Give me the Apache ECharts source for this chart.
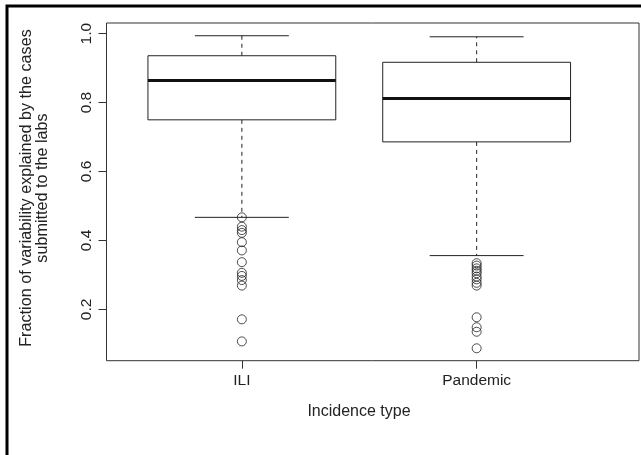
<!DOCTYPE html>
<html><head><meta charset="utf-8">
<script src="https://cdn.jsdelivr.net/npm/echarts@6/dist/echarts.min.js"></script>
<style>html,body{margin:0;padding:0;background:#fff}#c{width:641px;height:455px}</style>
</head><body><div id="c"></div>
<script>
var categories = ['ILI', 'Pandemic'];
var lowerWhisker = [0.467, 0.356];
var q1 = [0.750, 0.686];
var median = [0.864, 0.812];
var q3 = [0.936, 0.917];
var upperWhisker = [0.994, 0.991];
var outliersILI = [0.467, 0.440, 0.430, 0.422, 0.395, 0.371, 0.337, 0.306, 0.297, 0.285, 0.269, 0.171, 0.107];
var outliersPandemic = [0.334, 0.327, 0.319, 0.312, 0.305, 0.295, 0.287, 0.277, 0.269, 0.177, 0.148, 0.135, 0.087];
var yTicks = [0.2, 0.4, 0.6, 0.8, 1.0];
var xTicks = [1, 2];
var yTitle = 'Fraction of variability explained by the cases\nsubmitted to the labs';
var xTitle = 'Incidence type';

var boxData = categories.map(function (c, i) {
  return [i + 1, lowerWhisker[i], q1[i], median[i], q3[i], upperWhisker[i]];
});
var outlierData = [];
outliersILI.forEach(function (v) { outlierData.push([1, v]); });
outliersPandemic.forEach(function (v) { outlierData.push([2, v]); });

var LINE = '#222';
var FONT = 'Liberation Sans, Arial, sans-serif';

function renderBox(params, api) {
  var x = api.value(0);
  var lw = api.coord([x, api.value(1)]);
  var b1 = api.coord([x, api.value(2)]);
  var md = api.coord([x, api.value(3)]);
  var b3 = api.coord([x, api.value(4)]);
  var uw = api.coord([x, api.value(5)]);
  var boxW = api.size([0.8, 0])[0];
  var capW = api.size([0.4, 0])[0];
  var cx = lw[0];
  var dash = { stroke: LINE, lineWidth: 1, lineDash: [4, 4], fill: null };
  var solid = { stroke: LINE, lineWidth: 1, fill: null };
  return {
    type: 'group',
    children: [
      { type: 'line', shape: { x1: cx, y1: b3[1], x2: cx, y2: uw[1] }, style: dash },
      { type: 'line', shape: { x1: cx, y1: b1[1], x2: cx, y2: lw[1] }, style: dash },
      { type: 'line', shape: { x1: cx - capW / 2, y1: uw[1], x2: cx + capW / 2, y2: uw[1] }, style: solid },
      { type: 'line', shape: { x1: cx - capW / 2, y1: lw[1], x2: cx + capW / 2, y2: lw[1] }, style: solid },
      { type: 'rect', shape: { x: cx - boxW / 2, y: b3[1], width: boxW, height: b1[1] - b3[1] }, style: { stroke: LINE, lineWidth: 1, fill: '#fff' } },
      { type: 'line', shape: { x1: cx - boxW / 2, y1: md[1], x2: cx + boxW / 2, y2: md[1] }, style: { stroke: '#111', lineWidth: 3 } }
    ]
  };
}

var chart = echarts.init(document.getElementById('c'), null, { renderer: 'canvas' });
chart.setOption({
  animation: false,
  backgroundColor: '#fff',
  grid: { left: 106.5, top: 23, width: 532.5, height: 337.7, show: true, borderColor: '#333', borderWidth: 1, backgroundColor: 'transparent' },
  xAxis: {
    type: 'value', min: 0.4235, max: 2.6915,
    splitLine: { show: false },
    axisLine: { show: false },
    axisTick: { show: true, length: 8, customValues: xTicks, lineStyle: { color: '#333' } },
    axisLabel: { customValues: xTicks, margin: 12, fontSize: 15.5, fontFamily: FONT, color: '#222',
      formatter: function (v) { return categories[Math.round(v) - 1] || ''; } }
  },
  yAxis: {
    type: 'value', min: 0.051, max: 1.031,
    splitLine: { show: false },
    axisLine: { show: false },
    axisTick: { show: true, length: 8, customValues: yTicks, lineStyle: { color: '#333' } },
    axisLabel: { customValues: yTicks, rotate: 90, margin: 12, fontSize: 15.5, fontFamily: FONT, color: '#222',
      formatter: function (v) { return v.toFixed(1); } }
  },
  graphic: [
    { type: 'rect', shape: { x: 7, y: 6, width: 700, height: 500 }, style: { stroke: '#000', lineWidth: 3, fill: null }, silent: true },
    { type: 'text', x: 35, y: 188, rotation: Math.PI / 2,
      style: { text: yTitle, fontSize: 16.2, fontFamily: FONT, fill: '#222', textAlign: 'center', textVerticalAlign: 'middle', lineHeight: 16 } },
    { type: 'text', x: 359, y: 412,
      style: { text: xTitle, fontSize: 16, fontFamily: FONT, fill: '#222', textAlign: 'center', textVerticalAlign: 'middle' } }
  ],
  series: [
    { type: 'custom', renderItem: renderBox, data: boxData, encode: { x: 0, y: [1, 2, 3, 4, 5] }, z: 2 },
    { type: 'scatter', data: outlierData, symbol: 'circle', symbolSize: 9, z: 3,
      itemStyle: { color: 'rgba(0,0,0,0)', borderColor: LINE, borderWidth: 1 } }
  ]
});
</script></body></html>
